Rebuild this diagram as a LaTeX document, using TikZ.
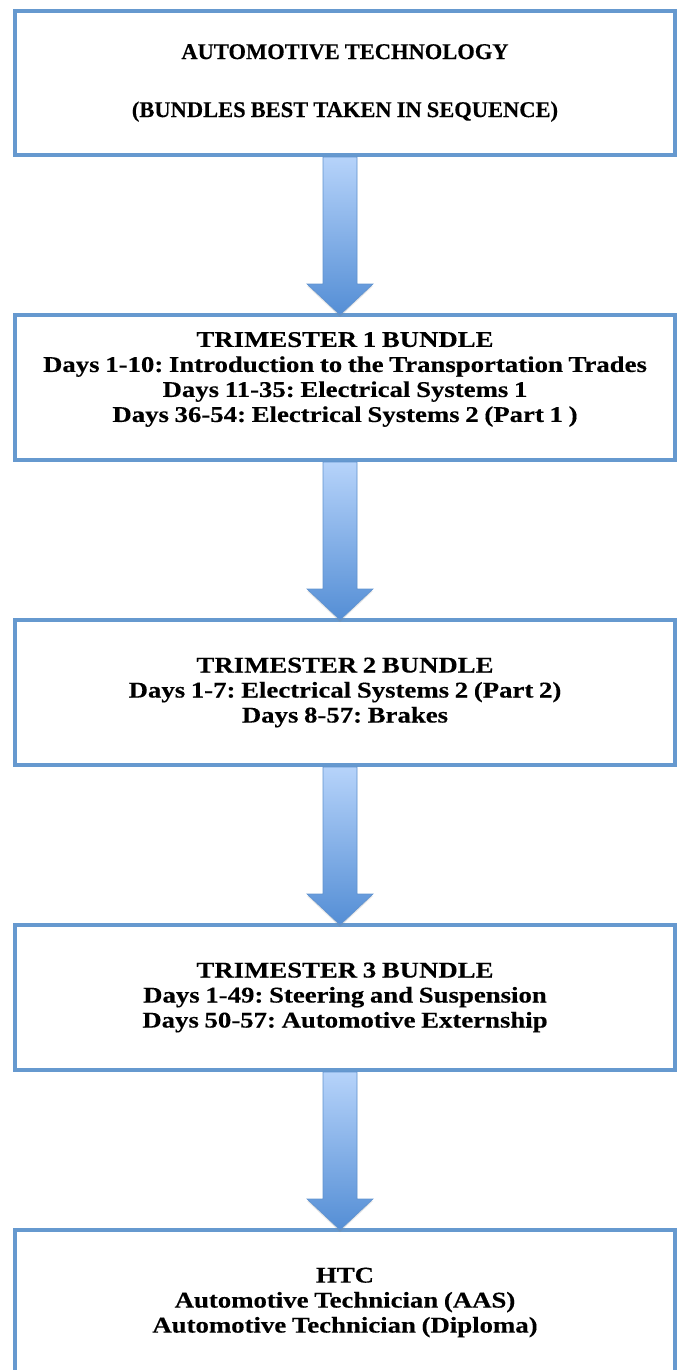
\documentclass[tikz,border=0pt]{standalone}
\usepackage{fontspec}
\setmainfont{Liberation Serif}[FakeBold=.3, WordSpace=.9]
\newfontfamily\widefont[FakeStretch=1.19, FakeBold=.3, WordSpace=.85]{Liberation Serif}
\usetikzlibrary{positioning,calc,shadows}
\frenchspacing

\definecolor{boxline}{RGB}{102,153,207}
\definecolor{arrtop}{RGB}{182,211,250}
\definecolor{arrbot}{RGB}{84,142,213}
\definecolor{arredge}{RGB}{96,146,206}

\tikzset{
  bundle/.style={draw=boxline, line width=4pt, minimum width=660pt, minimum height=145pt,
    inner sep=0pt, outer sep=0pt, align=center,
    font=\widefont\fontsize{22.5}{25}\selectfont\bfseries},
  bigarrow/.style={top color=arrtop, bottom color=arrbot, draw=arredge, line width=.6pt,
    drop shadow={opacity=.2, shadow xshift=0pt, shadow yshift=-2pt}}
}

\begin{document}
\begin{tikzpicture}[x=1pt, y=1pt, node distance=160pt]
    \useasboundingbox (0,0) rectangle (679,-1370);
    \clip (0,0) rectangle (679,-1370);

    \node[bundle, minimum height=144pt, font=\fontsize{22.5}{25}\selectfont\bfseries] (title) at (345,-83)
        {AUTOMOTIVE TECHNOLOGY\\[33pt](BUNDLES BEST TAKEN IN SEQUENCE)};
    \node[bundle, below=of title, text depth=21pt] (tri1)
        {TRIMESTER 1 BUNDLE\\Days 1-10: Introduction to the Transportation Trades\\
         Days 11-35: Electrical Systems 1\\Days 36-54: Electrical Systems 2 (Part 1 )};
    \node[bundle, below=of tri1] (tri2)
        {TRIMESTER 2 BUNDLE\\Days 1-7: Electrical Systems 2 (Part 2)\\Days 8-57: Brakes};
    \node[bundle, below=of tri2] (tri3)
        {TRIMESTER 3 BUNDLE\\Days 1-49: Steering and Suspension\\Days 50-57: Automotive Externship};
    \node[bundle, below=of tri3] (htc)
        {HTC\\Automotive Technician (AAS)\\Automotive Technician (Diploma)};

    % block arrows between the bundles
    \foreach \a/\b in {title/tri1, tri1/tri2, tri2/tri3, tri3/htc}
    {
        \path[bigarrow] ($(\a.south)+(-22,-2)$) -- ($(\b.north)+(-22,31)$) -- ($(\b.north)+(-38,31)$)
            -- ($(\b.north)+(-5,0)$) -- ($(\b.north)+(28,31)$) -- ($(\b.north)+(12,31)$)
            -- ($(\a.south)+(12,-2)$) -- cycle;
    }
\end{tikzpicture}
\end{document}
